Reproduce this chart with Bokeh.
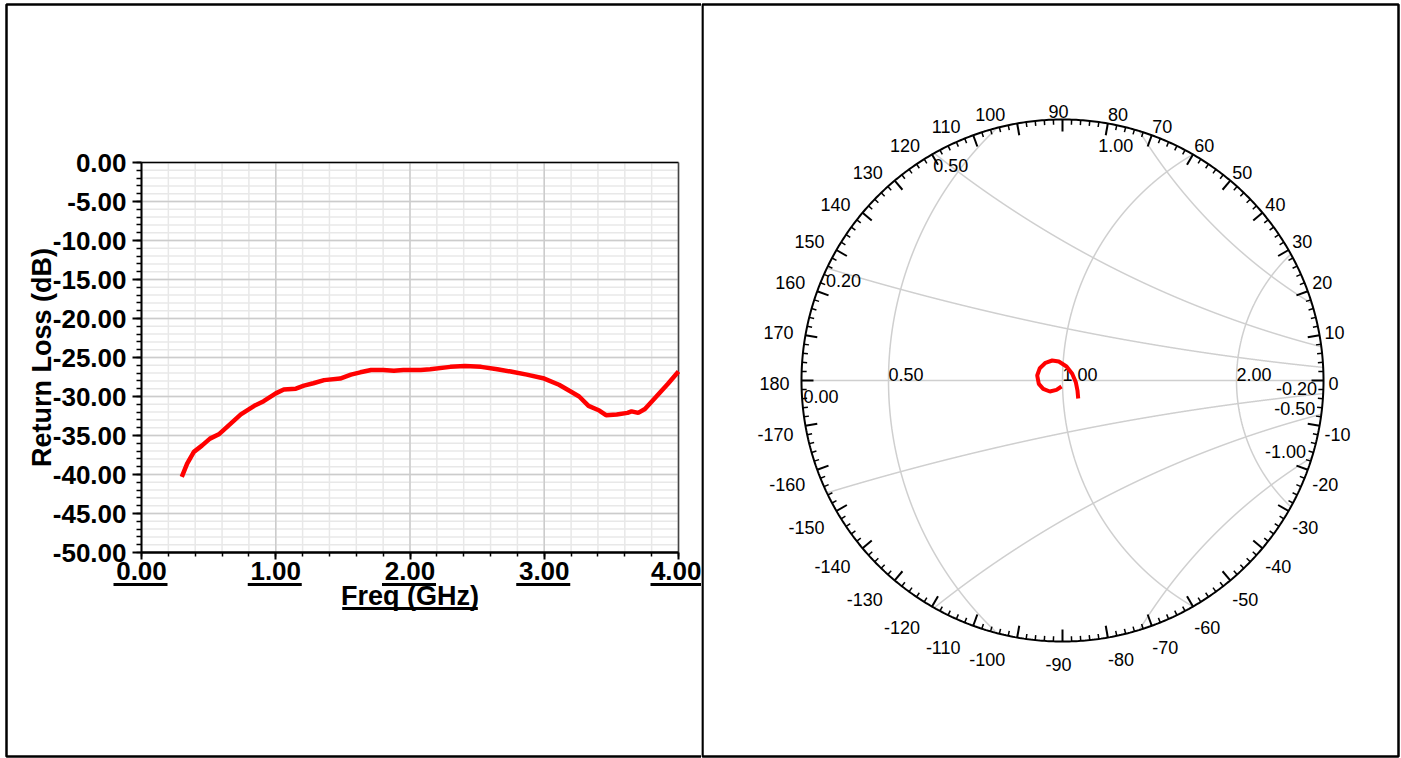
import math
import numpy as np
from bokeh.plotting import figure
from bokeh.layouts import row
from bokeh.models import Range1d, FixedTicker, PrintfTickFormatter, BoxAnnotation
from bokeh.core.properties import value
from bokeh.embed import file_html
from bokeh.resources import INLINE

# ---------------- data: return loss ----------------
freq_ghz = [0.30, 0.34, 0.39, 0.45, 0.51, 0.58, 0.65, 0.74, 0.84, 0.91,
            1.00, 1.06, 1.15, 1.21, 1.28, 1.36, 1.48, 1.56, 1.63, 1.71,
            1.80, 1.88, 1.95, 2.08, 2.15, 2.30, 2.41, 2.53, 2.65, 2.75,
            2.87, 3.00, 3.11, 3.20, 3.26, 3.33, 3.41, 3.46, 3.54, 3.62,
            3.65, 3.70, 3.75, 3.83, 3.92, 4.00]
return_loss_db = [-40.3, -38.6, -37.1, -36.3, -35.4, -34.8, -33.7, -32.3, -31.2, -30.6,
                  -29.6, -29.1, -29.0, -28.6, -28.3, -27.9, -27.7, -27.2, -26.9, -26.6,
                  -26.6, -26.7, -26.6, -26.6, -26.5, -26.2, -26.1, -26.2, -26.5, -26.8,
                  -27.2, -27.7, -28.5, -29.4, -30.0, -31.2, -31.8, -32.4, -32.3, -32.1,
                  -31.9, -32.1, -31.6, -30.1, -28.4, -26.8]
freq_ticks = [0, 1, 2, 3, 4]
freq_minor_ticks = [round(0.2 * i, 1) for i in range(21)]
db_ticks = list(range(-50, 1, 5))
db_minor_ticks = list(range(-50, 1))

# ---------------- data: Smith chart ----------------
s11_re = [-0.0019, -0.0115, -0.0243, -0.0370, -0.0454, -0.0485, -0.0435, -0.0326,
          -0.0198, -0.0071, 0.0077, 0.0186, 0.0255, 0.0287, 0.0301]
s11_im = [-0.0115, -0.0179, -0.0211, -0.0160, -0.0064, 0.0096, 0.0236, 0.0339,
          0.0383, 0.0364, 0.0268, 0.0128, -0.0033, -0.0192, -0.0345]
smith_edge = 0.5                     # |Gamma| shown at the outer circle
r_values = [0.5, 1.0, 2.0]
x_values = [0.2, 0.5, 1.0, -0.2, -0.5, -1.0]
angle_labels = list(range(-170, 181, 10))
angle_minor_step = 2

FONT = "Liberation Sans"
H = 758

# ================= left: return loss =================
W1 = 701
X0, X1 = freq_ticks[0], freq_ticks[-1]
Y0, Y1 = db_ticks[0], db_ticks[-1]
PX_L, PX_R, PX_T, PX_B = 141.0, 678.0, 162.0, 552.0   # plot box on the canvas
kx = (PX_R - PX_L) / (X1 - X0)
ky = (PX_B - PX_T) / (Y1 - Y0)


def cx1(px):
    return X0 + (px - PX_L) / kx


def cy1(py):
    return Y1 - (py - PX_T) / ky


p1 = figure(width=W1, height=H,
            x_range=Range1d(cx1(0), cx1(W1)), y_range=Range1d(cy1(H), cy1(0)),
            output_backend="svg", toolbar_location=None, min_border=0,
            background_fill_color="white", border_fill_color="white")
p1.frame_align = False
p1.grid.visible = False
p1.outline_line_color = None

# grid (from the tick lists), minor then major
p1.segment(x0=freq_minor_ticks, y0=[Y0] * len(freq_minor_ticks), x1=freq_minor_ticks,
           y1=[Y1] * len(freq_minor_ticks), line_color="#e8e8e8", line_width=1.5)
p1.segment(x0=[X0] * len(db_minor_ticks), y0=db_minor_ticks, x1=[X1] * len(db_minor_ticks),
           y1=db_minor_ticks, line_color="#e8e8e8", line_width=1.5)
p1.segment(x0=freq_ticks, y0=[Y0] * len(freq_ticks), x1=freq_ticks,
           y1=[Y1] * len(freq_ticks), line_color="#cccccc", line_width=1.5)
p1.segment(x0=[X0] * len(db_ticks), y0=db_ticks, x1=[X1] * len(db_ticks),
           y1=db_ticks, line_color="#cccccc", line_width=1.5)
# plot box: top and right
p1.segment(x0=[X0], y0=[Y1], x1=[X1], y1=[Y1], line_color="black", line_width=1.5)
p1.segment(x0=[X1], y0=[Y0], x1=[X1], y1=[Y1], line_color="#444444", line_width=1.5)

p1.line(freq_ghz, return_loss_db, line_color="#ff0000", line_width=4.5)

for ax in (p1.xaxis[0], p1.yaxis[0]):
    ax.formatter = PrintfTickFormatter(format="%.2f")
    ax.major_label_text_font = FONT
    ax.major_label_text_font_size = "26px"
    ax.major_label_text_font_style = "bold"
    ax.major_label_text_color = "black"
    ax.axis_label_text_font = FONT
    ax.axis_label_text_font_size = "27px"
    ax.axis_label_text_font_style = "bold"
    ax.axis_label_text_color = "black"
    ax.axis_line_color = "black"
    ax.major_tick_line_color = "black"
    ax.minor_tick_line_color = "black"
    ax.major_tick_line_width = 2
    ax.minor_tick_line_width = 1.5
    ax.major_tick_in = 0
    ax.minor_tick_in = 0

xa = p1.xaxis[0]
xa.fixed_location = Y0
xa.bounds = (X0, X1)
xa.ticker = FixedTicker(ticks=freq_ticks, minor_ticks=freq_minor_ticks)
xa.axis_label = "Freq (GHz)"
xa.axis_line_width = 2.5
xa.major_tick_out = 7
xa.minor_tick_out = 4
xa.major_label_standoff = 2
xa.axis_label_standoff = -2

ya = p1.yaxis[0]
ya.fixed_location = X0
ya.bounds = (Y0, Y1)
ya.ticker = FixedTicker(ticks=db_ticks, minor_ticks=db_minor_ticks)
ya.axis_label = "Return Loss (dB)"
ya.axis_line_width = 2
ya.major_tick_out = 9
ya.minor_tick_out = 5
ya.major_label_standoff = 6
ya.axis_label_standoff = -7

# underlines of the x tick labels and of the x title (decoration)
for t in freq_ticks:
    p1.add_layout(BoxAnnotation(left=t - 28 / kx, right=t + 26 / kx,
                                top=cy1(PX_B + 30.5), bottom=cy1(PX_B + 33.5),
                                fill_color="black", fill_alpha=1.0, line_alpha=0))
mid = (X0 + X1) / 2
p1.add_layout(BoxAnnotation(left=mid - 67.8 / kx, right=mid + 67.8 / kx,
                            top=cy1(PX_B + 54.5), bottom=cy1(PX_B + 57.5),
                            fill_color="black", fill_alpha=1.0, line_alpha=0))
# cell border
p1.add_layout(BoxAnnotation(left=cx1(6), right=cx1(W1 + 5), top=cy1(4), bottom=cy1(756),
                            fill_alpha=0, line_color="black", line_alpha=1.0, line_width=2.5))

# ================= right: Smith chart =================
W2 = 700
PPU = 522.0            # pixels per unit of Gamma
CX, CY = 361.0, 380.0  # canvas position of the chart centre
p2 = figure(width=W2, height=H,
            x_range=Range1d(-CX / PPU, (W2 - CX) / PPU),
            y_range=Range1d(-(H - CY) / PPU, CY / PPU),
            x_axis_location=None, y_axis_location=None, min_border=0,
            output_backend="svg", toolbar_location=None,
            background_fill_color="white", border_fill_color="white")
p2.frame_align = False
p2.grid.visible = False
p2.outline_line_color = None


def cx2(px):
    return (px - CX) / PPU


def cy2(py):
    return (CY - py) / PPU


p2.add_layout(BoxAnnotation(left=cx2(1), right=cx2(697), top=cy2(4), bottom=cy2(756),
                            fill_alpha=0, line_color="black", line_alpha=1.0, line_width=2.5))

GRID = "#cfcfcf"


def clipped_arc(cx, cy, rad):
    t = np.linspace(0, 2 * np.pi, 60001)
    xs = cx + rad * np.cos(t)
    ys = cy + rad * np.sin(t)
    m = xs ** 2 + ys ** 2 <= smith_edge ** 2
    return xs[m], ys[m]


arc_x, arc_y = [], []
r_cross = []
for r in r_values:
    ax_, ay_ = clipped_arc(r / (1 + r), 0.0, 1 / (1 + r))
    arc_x.append(list(ax_)); arc_y.append(list(ay_))
    r_cross.append((r - 1) / (r + 1))
x_ends = []
for xv in x_values:
    ax_, ay_ = clipped_arc(1.0, 1.0 / xv, 1.0 / abs(xv))
    arc_x.append(list(ax_)); arc_y.append(list(ay_))
    ends = [(ax_[0], ay_[0]), (ax_[-1], ay_[-1])]
    ends.sort(key=lambda e: math.atan2(e[1], e[0]))
    x_ends.append(ends[-1])
arc_x.append([-smith_edge, smith_edge]); arc_y.append([0, 0])
p2.multi_line(arc_x, arc_y, line_color=GRID, line_width=1.5)

# outer circle
tt = np.linspace(0, 2 * np.pi, 721)
p2.line(smith_edge * np.cos(tt), smith_edge * np.sin(tt), line_color="black", line_width=2)

# angle ticks (inward)
maj_x0, maj_y0, maj_x1, maj_y1 = [], [], [], []
min_x0, min_y0, min_x1, min_y1 = [], [], [], []
for a in range(-178, 181, angle_minor_step):
    th = math.radians(a)
    c, s = math.cos(th), math.sin(th)
    if a % 10 == 0:
        L = 12 / PPU
        maj_x0.append(smith_edge * c); maj_y0.append(smith_edge * s)
        maj_x1.append((smith_edge - L) * c); maj_y1.append((smith_edge - L) * s)
    else:
        L = 5 / PPU
        min_x0.append(smith_edge * c); min_y0.append(smith_edge * s)
        min_x1.append((smith_edge - L) * c); min_y1.append((smith_edge - L) * s)
p2.segment(maj_x0, maj_y0, maj_x1, maj_y1, line_color="black", line_width=2)
p2.segment(min_x0, min_y0, min_x1, min_y1, line_color="black", line_width=1.5)

# angle labels
LFS = 18


def est_w(txt):
    return sum(0.333 * LFS if ch == "-" else 0.556 * LFS for ch in txt)


lx, ly, lt, ldx, ldy = [], [], [], [], []
for a in angle_labels:
    th = math.radians(a)
    c, s = math.cos(th), math.sin(th)
    txt = str(a)
    w, h = est_w(txt), 13.0
    if c > 0.15:
        dx = 5 * c * c + w / 2
    elif c < -0.15:
        dx = -12 - w / 2
    else:
        dx = -4
    rr = min(1.0, abs(s) / 0.35)
    if s >= 0:
        dy = -(h / 2 + 2) * rr + 3 * (1 - rr)
    else:
        dy = (8 + 8 * s * s + h / 2) * rr + 3 * (1 - rr)
    lx.append(smith_edge * c); ly.append(smith_edge * s)
    lt.append(txt); ldx.append(dx); ldy.append(dy)
p2.text(x=lx, y=ly, text=lt, x_offset=ldx, y_offset=ldy,
        text_font=value(FONT), text_font_size=f"{LFS}px", text_color="black",
        text_align="center", text_baseline="middle")

# grid value labels (vertically centred text, offsets in screen pixels)
tf = dict(text_font=value(FONT), text_font_size=f"{LFS}px", text_color="black",
          text_baseline="middle")
p2.text(x=r_cross, y=[0] * len(r_cross), text=["%.2f" % r for r in r_values],
        x_offset=0, y_offset=-6, text_align="left", **tf)
p2.text(x=[-smith_edge], y=[0], text=["%.2f" % 0.0], x_offset=2, y_offset=16,
        text_align="left", **tf)
for xv, (ex, ey) in zip(x_values, x_ends):
    ang = math.degrees(math.atan2(ey, ex))
    if xv > 0 and ang > 90:
        kw = dict(x_offset=-1, y_offset=12.5, text_align="left")
    elif xv > 0:
        kw = dict(x_offset=-6, y_offset=14, text_align="right")
    else:
        kw = dict(x_offset=-6, y_offset=-5.5, text_align="right")
    p2.text(x=[ex], y=[ey], text=["%.2f" % xv], **kw, **tf)

# S11 trace
p2.line(s11_re, s11_im, line_color="#ff0000", line_width=4)

layout = row(p1, p2)
open("out.html", "w").write(file_html(layout, INLINE))
